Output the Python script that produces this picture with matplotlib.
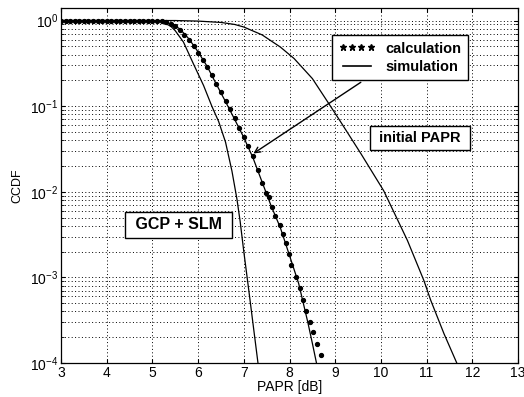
import matplotlib
matplotlib.use("Agg")
import matplotlib.pyplot as plt
from matplotlib.lines import Line2D
from matplotlib.ticker import LogLocator, FixedLocator, NullFormatter

plt.rcParams['font.family'] = ['Liberation Sans', 'DejaVu Sans']
plt.rcParams['mathtext.fontset'] = 'custom'
plt.rcParams['mathtext.rm'] = 'Liberation Sans'

# calculation (dots), GCP + SLM
calc_x = [3.0, 3.1, 3.2, 3.3, 3.4, 3.5, 3.6, 3.7, 3.8, 3.9, 4.0, 4.1, 4.2, 4.3,
          4.4, 4.5, 4.6, 4.7, 4.8, 4.9, 5.0, 5.1, 5.2, 5.3, 5.4, 5.5, 5.6, 5.7,
          5.8, 5.9, 6.0, 6.1, 6.2, 6.3, 6.4, 6.5, 6.6, 6.7, 6.8, 6.9, 7.0, 7.1,
          7.2, 7.3, 7.4, 7.48, 7.55, 7.62, 7.69, 7.79, 7.86, 7.92, 7.98, 8.04,
          8.15, 8.22, 8.29, 8.37, 8.45, 8.52, 8.61, 8.69]
calc_y = [1.0, 1.0, 1.0, 1.0, 1.0, 1.0, 1.0, 1.0, 1.0, 1.0, 1.0, 1.0, 1.0, 1.0,
          1.0, 1.0, 1.0, 1.0, 1.0, 1.0, 1.0, 0.995, 0.985, 0.96, 0.92, 0.86,
          0.78, 0.68, 0.59, 0.50, 0.42, 0.35, 0.29, 0.23, 0.18, 0.145, 0.115,
          0.092, 0.072, 0.056, 0.044, 0.034, 0.026, 0.018, 0.0128, 0.0098,
          0.0087, 0.0066, 0.0052, 0.0041, 0.0032, 0.0025, 0.0019, 0.0014,
          0.00102, 0.00076, 0.00054, 0.0004, 0.0003, 0.00023, 0.000166,
          0.000123]

# simulation, GCP + SLM (solid line next to the dots)
sim_x = [3.0, 5.0, 5.2, 5.4, 5.6, 5.8, 6.0, 6.2, 6.4, 6.6, 6.8, 7.0, 7.2, 7.4,
         7.6, 7.8, 8.0, 8.2, 8.4, 8.5, 8.59]
sim_y = [1.0, 1.0, 0.98, 0.92, 0.80, 0.61, 0.43, 0.29, 0.18, 0.113, 0.070,
         0.043, 0.025, 0.013, 0.0068, 0.0038, 0.0018, 0.00085, 0.0003,
         0.00017, 0.0001]

# steep curve (GCP + SLM label)
gcp_x = [3.0, 5.0, 5.2, 5.4, 5.5, 5.68, 5.9, 6.12, 6.3, 6.45, 6.6, 6.74, 6.85,
         6.92, 7.0, 7.11, 7.22, 7.31]
gcp_y = [1.0, 1.0, 0.97, 0.86, 0.76, 0.56, 0.31, 0.174, 0.10, 0.066, 0.038,
         0.0175, 0.0082, 0.0045, 0.002, 0.0007, 0.00024, 0.0001]

# initial PAPR
init_x = [3.0, 5.5, 6.0, 6.5, 6.8, 7.0, 7.4, 7.8, 8.1, 8.5, 8.86, 9.1, 9.56,
          10.06, 10.58, 10.94, 11.09, 11.38, 11.66]
init_y = [1.0, 1.0, 0.985, 0.95, 0.9, 0.84, 0.68, 0.49, 0.36, 0.21, 0.107,
          0.068, 0.028, 0.0103, 0.0027, 0.00092, 0.00054, 0.00022, 0.0001]

x_ticks = [3, 4, 5, 6, 7, 8, 9, 10, 11, 12, 13]
y_ticks = [1e-4, 1e-3, 1e-2, 1e-1, 1e0]
y_ticklabels = [r'$\mathregular{10^{-4}}$', r'$\mathregular{10^{-3}}$',
                r'$\mathregular{10^{-2}}$', r'$\mathregular{10^{-1}}$',
                r'$\mathregular{10^{0}}$']

fig = plt.figure(figsize=(5.24, 3.97), dpi=100)
ax = fig.add_axes([0.1164, 0.0856, 0.8722, 0.8942])

ax.semilogy(init_x, init_y, color='k', lw=0.9)
ax.semilogy(gcp_x, gcp_y, color='k', lw=0.9)
ax.semilogy(sim_x, sim_y, color='k', lw=0.9)
ax.semilogy(calc_x, calc_y, ls='none', marker='o', ms=2.8, color='k')

ax.set_xlim(3, 13)
ax.set_ylim(1e-4, 1.4)
ax.xaxis.set_major_locator(FixedLocator(x_ticks))
ax.set_xticklabels([str(t) for t in x_ticks])
ax.set_yticks(y_ticks)
ax.set_yticklabels(y_ticklabels)
ax.yaxis.set_minor_locator(LogLocator(base=10, subs=range(2, 10)))
ax.yaxis.set_minor_formatter(NullFormatter())
ax.tick_params(direction='in', top=True, right=True, labelsize=10,
               length=3, width=0.8, colors='k', pad=2)
ax.tick_params(which='minor', direction='in', right=True, length=2)

ax.grid(True, which='major', color='k', ls=(0, (1, 2.5)), lw=0.7)
ax.grid(True, which='minor', axis='y', color='k', ls=(0, (1, 2.5)), lw=0.7)
for s in ax.spines.values():
    s.set_linewidth(0.9)

ax.set_xlabel('PAPR [dB]', fontsize=10, labelpad=0)
ax.set_ylabel('CCDF', fontsize=9, labelpad=5)

handles = [Line2D([], [], ls='none', marker='*', ms=4.5, color='k'),
           Line2D([], [], ls='-', lw=1.2, color='k')]
leg = ax.legend(handles, ['calculation', 'simulation'],
                loc='upper left', bbox_to_anchor=(0.593, 0.924),
                borderaxespad=0, numpoints=4, handlelength=2.5,
                handletextpad=0.7, borderpad=0.45, labelspacing=0.3,
                fancybox=False, edgecolor='k', framealpha=1,
                prop={'weight': 'bold', 'size': 10.5})
leg.get_frame().set_linewidth(1.0)

ax.annotate('', xy=(7.21, 0.028), xytext=(9.56, 0.19),
            arrowprops=dict(arrowstyle='->', color='k', lw=1.0,
                            shrinkA=0, shrinkB=0))

box = dict(boxstyle='square,pad=0.35', fc='white', ec='k', lw=1.0)
ax.text(10.86, 0.0424, ' initial PAPR ', ha='center', va='center',
        fontsize=10.5, fontweight='bold', bbox=box)
ax.text(5.57, 0.0041, ' GCP + SLM ', ha='center', va='center',
        fontsize=11.5, fontweight='bold', bbox=box)

fig.savefig('out.png', dpi=100)
